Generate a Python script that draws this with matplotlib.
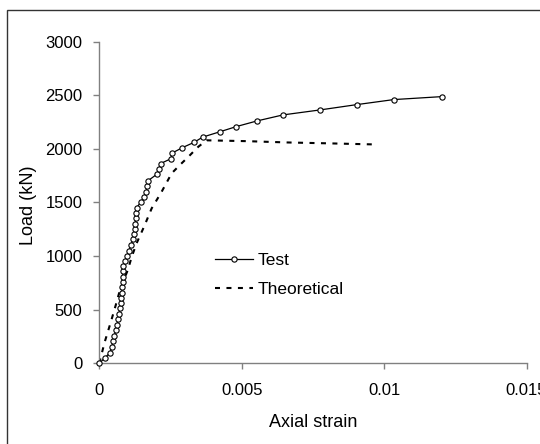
import matplotlib
matplotlib.use("Agg")
import matplotlib.pyplot as plt
from matplotlib.patches import Rectangle

plt.rcParams["font.family"] = ["Liberation Sans", "DejaVu Sans"]

# Test curve (strain, load kN)
test_strain = [0, 0.0002, 0.00038, 0.00044, 0.00049, 0.00053, 0.00058, 0.00062,
               0.00067, 0.00069, 0.00073, 0.00075, 0.00076, 0.00079, 0.00081,
               0.00082, 0.00082, 0.00083, 0.00084, 0.0009, 0.00097, 0.00104,
               0.00111, 0.00119, 0.00123, 0.00125, 0.00126, 0.00128, 0.00128,
               0.00131, 0.00145, 0.00158, 0.00164, 0.00169, 0.00172, 0.00202,
               0.00209, 0.00215, 0.00252, 0.00255, 0.00292, 0.00332, 0.00363,
               0.00425, 0.00481, 0.00554, 0.00645, 0.00774, 0.00904, 0.01034,
               0.01205]
test_load = [0, 52, 100, 155, 208, 258, 311, 357, 410, 460, 513, 560, 606, 659,
             709, 761, 808, 861, 908, 954, 1001, 1050, 1104, 1157, 1206, 1253,
             1299, 1352, 1399, 1451, 1502, 1554, 1601, 1654, 1705, 1763, 1810,
             1863, 1909, 1960, 2012, 2060, 2110, 2161, 2208, 2261, 2317, 2363,
             2413, 2460, 2488]

# Theoretical curve
theo_strain = [0, 0.00018, 0.00041, 0.00058, 0.00069, 0.00085, 0.001, 0.00114,
               0.00131, 0.00158, 0.00184, 0.00217, 0.00254, 0.00283, 0.00313,
               0.00348, 0.00377, 0.0052, 0.0066, 0.008, 0.0096]
theo_load = [0, 190, 390, 545, 650, 770, 870, 994, 1120, 1280, 1446, 1591, 1772,
             1850, 1927, 2021, 2080, 2072, 2060, 2052, 2042]

x_ticks = [0, 0.005, 0.01, 0.015]
x_ticklabels = ["0", "0.005", "0.01", "0.015"]
y_ticks = [0, 500, 1000, 1500, 2000, 2500, 3000]

SPINE = "#808080"

fig = plt.figure(figsize=(5.4, 4.44), dpi=100)
fig.patch.set_facecolor("white")
ax = fig.add_axes([0.1839, 0.1818, 0.7911, 0.7243])

ax.plot(test_strain, test_load, color="black", linewidth=0.9, marker="o",
        markersize=3.8, markerfacecolor="white", markeredgecolor="black",
        markeredgewidth=0.8, label="Test", clip_on=False, zorder=3)
ax.plot(theo_strain, theo_load, color="black", linewidth=1.5,
        linestyle=(0, (2.4, 3.1)), label="Theoretical", zorder=2)

ax.set_xlim(0, 0.015)
ax.set_ylim(0, 3000)
ax.set_xticks(x_ticks)
ax.set_xticklabels(x_ticklabels)
ax.set_yticks(y_ticks)

for side in ["top", "right"]:
    ax.spines[side].set_visible(False)
for side in ["left", "bottom"]:
    ax.spines[side].set_color(SPINE)
    ax.spines[side].set_linewidth(1.0)

ax.tick_params(axis="both", direction="out", length=4, width=1.0, color=SPINE,
               labelsize=12, labelcolor="black")
ax.tick_params(axis="x", pad=10.5)
ax.tick_params(axis="y", pad=8)

ax.set_xlabel("Axial strain", fontsize=13)
ax.set_ylabel("Load (kN)", fontsize=13)
ax.xaxis.set_label_coords(0.5, -0.158)
ax.yaxis.set_label_coords(-0.146, 0.49)

ax.legend(loc="upper left", bbox_to_anchor=(215 / 540, 1 - 253 / 444),
          bbox_transform=fig.transFigure, frameon=False, fontsize=12.5,
          handlelength=2.2, handletextpad=0.25, labelspacing=0.78,
          borderpad=0, borderaxespad=0, numpoints=1)

# outer frame
fig.patches.append(Rectangle((7.3 / 540, -0.1), 1.2, 1 - 10 / 444 + 0.1,
                             transform=fig.transFigure, fill=False,
                             edgecolor="#333333", linewidth=1.0))

fig.savefig("out.png", dpi=100, facecolor="white")
